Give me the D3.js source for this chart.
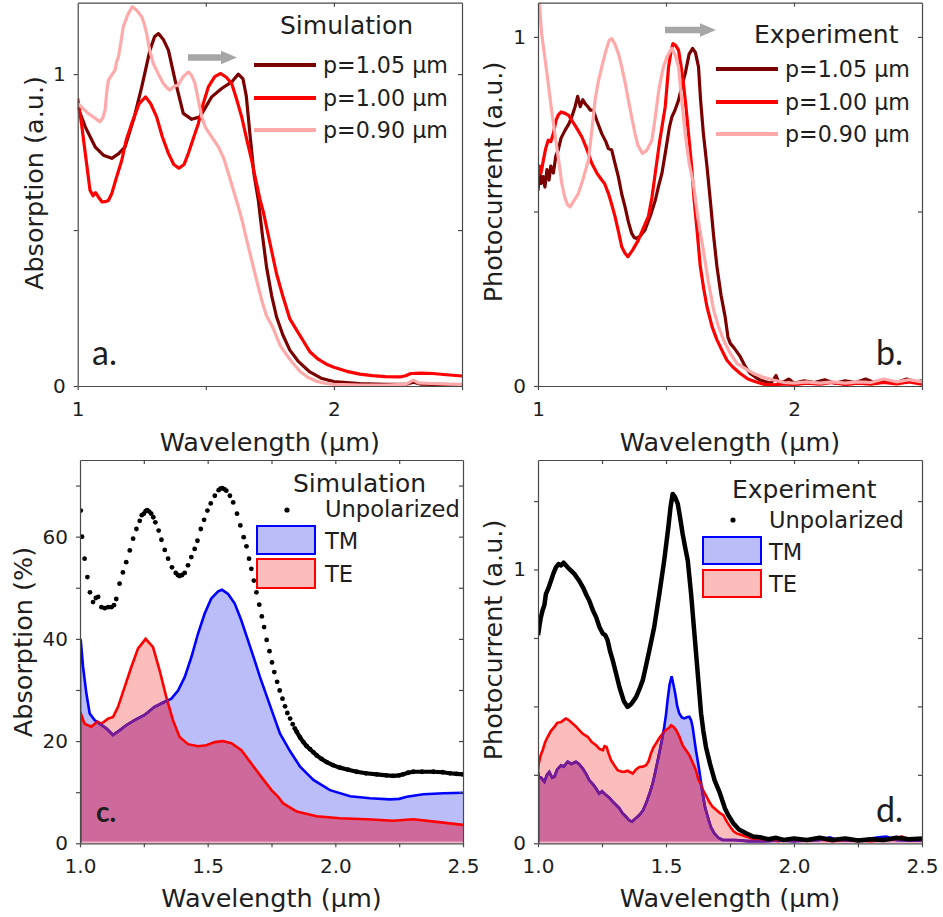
<!DOCTYPE html>
<html><head><meta charset="utf-8">
<script src="https://cdn.jsdelivr.net/npm/d3@7"></script>
<style>body{margin:0;background:#fff}svg{display:block}</style>
</head><body>
<svg id="fig" width="943" height="917"></svg>
<script>
// ---------------- DATA ----------------
// Panel a: simulated absorption (a.u.) vs wavelength (µm)
const simA105 = [[1.00,0.895],[1.03,0.83],[1.068,0.767],[1.10,0.74],[1.133,0.730],[1.16,0.745],[1.185,0.767],[1.22,0.86],[1.25,0.959],[1.282,1.077],[1.30,1.12],[1.315,1.130],[1.335,1.11],[1.354,1.077],[1.380,0.981],[1.412,0.874],[1.445,0.855],[1.477,0.863],[1.50,0.895],[1.523,0.927],[1.562,0.954],[1.601,0.975],[1.627,1.0],[1.645,0.985],[1.658,0.93],[1.672,0.810],[1.688,0.68],[1.705,0.596],[1.72,0.49],[1.737,0.382],[1.757,0.29],[1.776,0.222],[1.80,0.165],[1.828,0.115],[1.86,0.08],[1.906,0.045],[1.95,0.025],[2.00,0.014],[2.1,0.008],[2.2,0.005],[2.28,0.005],[2.31,0.012],[2.34,0.006],[2.4,0.005],[2.5,0.004]];
const simA100 = [[1.00,0.922],[1.015,0.84],[1.028,0.756],[1.048,0.628],[1.06,0.61],[1.07,0.62],[1.08,0.607],[1.095,0.59],[1.107,0.591],[1.12,0.595],[1.133,0.617],[1.15,0.665],[1.172,0.724],[1.19,0.79],[1.211,0.842],[1.24,0.905],[1.265,0.927],[1.285,0.905],[1.308,0.863],[1.33,0.80],[1.354,0.746],[1.375,0.71],[1.395,0.698],[1.415,0.71],[1.432,0.746],[1.45,0.79],[1.471,0.842],[1.49,0.905],[1.510,0.959],[1.535,0.992],[1.558,1.002],[1.58,0.99],[1.601,0.970],[1.62,0.92],[1.640,0.863],[1.66,0.79],[1.679,0.724],[1.695,0.66],[1.711,0.60],[1.724,0.56],[1.75,0.46],[1.776,0.36],[1.80,0.29],[1.828,0.215],[1.854,0.18],[1.88,0.145],[1.906,0.11],[1.94,0.085],[1.971,0.07],[2.00,0.060],[2.05,0.047],[2.101,0.038],[2.15,0.033],[2.2,0.03],[2.257,0.029],[2.28,0.033],[2.30,0.040],[2.34,0.041],[2.385,0.040],[2.44,0.036],[2.5,0.032]];
const simA090 = [[1.00,0.906],[1.02,0.89],[1.041,0.874],[1.065,0.86],[1.087,0.847],[1.098,0.86],[1.107,0.885],[1.113,0.94],[1.12,0.981],[1.135,1.0],[1.146,1.013],[1.152,1.04],[1.159,1.055],[1.168,1.10],[1.178,1.152],[1.195,1.19],[1.213,1.216],[1.23,1.205],[1.25,1.184],[1.26,1.16],[1.269,1.130],[1.28,1.08],[1.295,1.034],[1.315,1.0],[1.334,0.970],[1.35,0.955],[1.360,0.949],[1.375,0.96],[1.392,0.965],[1.41,0.99],[1.432,1.007],[1.445,0.995],[1.458,0.970],[1.47,0.92],[1.484,0.863],[1.498,0.83],[1.510,0.815],[1.53,0.79],[1.549,0.767],[1.57,0.73],[1.588,0.682],[1.607,0.63],[1.627,0.575],[1.645,0.52],[1.659,0.47],[1.68,0.40],[1.698,0.34],[1.72,0.27],[1.737,0.225],[1.763,0.185],[1.79,0.13],[1.815,0.10],[1.841,0.072],[1.87,0.045],[1.9,0.027],[1.932,0.015],[1.97,0.008],[2.0,0.005],[2.1,0.003],[2.2,0.003],[2.28,0.005],[2.31,0.019],[2.33,0.01],[2.38,0.008],[2.45,0.006],[2.5,0.005]];

// Panel b: measured photocurrent (a.u.)
const expB105 = [[1.00,0.56],[1.006,0.62],[1.012,0.58],[1.02,0.60],[1.027,0.57],[1.035,0.62],[1.043,0.59],[1.05,0.63],[1.06,0.61],[1.07,0.66],[1.079,0.676],[1.09,0.71],[1.106,0.733],[1.12,0.75],[1.132,0.771],[1.145,0.80],[1.155,0.83],[1.165,0.80],[1.175,0.82],[1.184,0.809],[1.195,0.80],[1.205,0.79],[1.216,0.790],[1.23,0.76],[1.249,0.723],[1.265,0.70],[1.275,0.68],[1.288,0.676],[1.30,0.64],[1.314,0.599],[1.327,0.55],[1.340,0.513],[1.353,0.47],[1.366,0.437],[1.376,0.425],[1.386,0.423],[1.40,0.43],[1.418,0.447],[1.44,0.49],[1.458,0.532],[1.470,0.57],[1.484,0.609],[1.50,0.68],[1.513,0.74],[1.523,0.771],[1.535,0.79],[1.549,0.819],[1.562,0.86],[1.575,0.895],[1.59,0.95],[1.604,0.967],[1.615,0.955],[1.627,0.914],[1.635,0.82],[1.646,0.723],[1.66,0.63],[1.673,0.532],[1.686,0.43],[1.699,0.342],[1.715,0.26],[1.731,0.198],[1.742,0.14],[1.751,0.122],[1.765,0.11],[1.775,0.10],[1.790,0.084],[1.81,0.055],[1.829,0.036],[1.85,0.025],[1.868,0.017],[1.89,0.012],[1.91,0.008],[1.93,0.03],[1.94,0.01],[1.96,0.012],[1.98,0.02],[2.0,0.008],[2.04,0.015],[2.08,0.01],[2.12,0.018],[2.16,0.008],[2.2,0.015],[2.24,0.01],[2.28,0.02],[2.32,0.008],[2.36,0.015],[2.4,0.01],[2.44,0.02],[2.48,0.012],[2.5,0.015]];
const expB100 = [[1.00,0.60],[1.006,0.63],[1.012,0.61],[1.021,0.647],[1.03,0.68],[1.040,0.704],[1.05,0.70],[1.060,0.723],[1.07,0.76],[1.079,0.776],[1.09,0.785],[1.106,0.781],[1.12,0.775],[1.132,0.761],[1.15,0.74],[1.171,0.714],[1.19,0.68],[1.210,0.638],[1.23,0.61],[1.249,0.590],[1.26,0.58],[1.275,0.552],[1.288,0.52],[1.301,0.485],[1.315,0.44],[1.327,0.399],[1.34,0.38],[1.351,0.370],[1.37,0.39],[1.392,0.418],[1.41,0.45],[1.431,0.485],[1.445,0.54],[1.458,0.609],[1.475,0.70],[1.497,0.800],[1.505,0.87],[1.510,0.914],[1.52,0.96],[1.527,0.981],[1.538,0.975],[1.549,0.962],[1.558,0.92],[1.568,0.867],[1.578,0.80],[1.588,0.723],[1.600,0.63],[1.610,0.532],[1.622,0.44],[1.634,0.342],[1.647,0.28],[1.660,0.227],[1.68,0.17],[1.699,0.132],[1.72,0.10],[1.738,0.074],[1.76,0.055],[1.790,0.036],[1.82,0.02],[1.85,0.012],[1.881,0.005],[1.92,0.003],[1.96,0.006],[2.0,0.004],[2.05,0.008],[2.1,0.005],[2.15,0.01],[2.2,0.004],[2.25,0.008],[2.3,0.005],[2.35,0.01],[2.4,0.006],[2.45,0.012],[2.5,0.005]];
const expB090 = [[1.00,1.16],[1.007,1.08],[1.014,1.010],[1.027,0.94],[1.040,0.867],[1.053,0.79],[1.066,0.723],[1.08,0.65],[1.093,0.580],[1.105,0.54],[1.115,0.52],[1.125,0.513],[1.14,0.53],[1.158,0.552],[1.175,0.59],[1.197,0.647],[1.21,0.73],[1.223,0.819],[1.235,0.87],[1.249,0.914],[1.265,0.96],[1.278,0.99],[1.288,0.995],[1.30,0.98],[1.315,0.95],[1.327,0.914],[1.340,0.87],[1.353,0.819],[1.366,0.77],[1.379,0.723],[1.39,0.69],[1.408,0.666],[1.425,0.675],[1.445,0.704],[1.458,0.77],[1.470,0.838],[1.480,0.88],[1.490,0.914],[1.505,0.945],[1.523,0.967],[1.535,0.95],[1.549,0.914],[1.56,0.83],[1.575,0.723],[1.590,0.64],[1.607,0.580],[1.625,0.48],[1.646,0.389],[1.665,0.30],[1.686,0.218],[1.705,0.17],[1.725,0.132],[1.75,0.095],[1.777,0.065],[1.81,0.05],[1.842,0.036],[1.88,0.025],[1.920,0.017],[1.96,0.01],[2.0,0.008],[2.05,0.012],[2.1,0.008],[2.15,0.012],[2.2,0.008],[2.25,0.012],[2.3,0.01],[2.35,0.02],[2.4,0.012],[2.45,0.018],[2.5,0.012]];

// Panel c: simulated absorption (%)
const simCUnpol = [[1.003,65.1],[1.008,60.0],[1.018,55.7],[1.029,52.1],[1.039,49.1],[1.051,47.2],[1.062,48.0],[1.071,48.2],[1.084,46.2],[1.097,46.0],[1.110,46.2],[1.123,46.2],[1.133,46.6],[1.142,47.8],[1.155,50.8],[1.168,53.0],[1.181,55.0],[1.195,57.3],[1.208,59.6],[1.221,61.5],[1.234,63.1],[1.242,64.2],[1.250,64.5],[1.257,65.0],[1.263,65.2],[1.271,64.9],[1.279,64.5],[1.287,63.8],[1.295,62.8],[1.308,61.2],[1.319,59.4],[1.332,57.4],[1.345,55.7],[1.360,54.0],[1.375,52.9],[1.383,52.5],[1.390,52.3],[1.400,52.5],[1.410,52.9],[1.423,54.4],[1.436,56.0],[1.449,57.6],[1.460,59.2],[1.473,61.5],[1.486,63.3],[1.499,65.1],[1.512,66.5],[1.528,68.0],[1.543,69.1],[1.550,69.4],[1.557,69.5],[1.565,69.3],[1.573,69.0],[1.587,68.0],[1.600,66.7],[1.615,64.5],[1.628,62.2],[1.641,59.9],[1.652,58.1],[1.662,55.7],[1.671,53.7],[1.681,51.4],[1.691,49.1],[1.702,46.7],[1.712,44.4],[1.721,42.3],[1.731,39.8],[1.742,37.6],[1.752,35.4],[1.761,33.5],[1.772,31.6],[1.782,29.9],[1.793,28.3],[1.803,26.8],[1.812,25.5],[1.823,24.4],[1.833,23.3],[1.841,22.5],[1.849,21.8],[1.862,20.7],[1.875,19.8],[1.888,19.0],[1.901,18.4],[1.914,17.8],[1.927,17.2],[1.946,16.5],[1.966,15.9],[1.99,15.3],[2.018,14.8],[2.05,14.4],[2.084,14.0],[2.12,13.7],[2.162,13.5],[2.2,13.3],[2.227,13.2],[2.25,13.3],[2.266,13.5],[2.285,13.8],[2.305,14.0],[2.34,14.0],[2.384,14.0],[2.42,13.9],[2.449,13.7],[2.475,13.6],[2.5,13.5]];
const simCTM = [[1.0,40.0],[1.003,39.7],[1.012,34.5],[1.025,29.3],[1.038,25.4],[1.057,24.1],[1.077,23.4],[1.103,22.5],[1.129,21.2],[1.155,22.1],[1.181,23.1],[1.214,24.1],[1.253,25.1],[1.292,26.7],[1.332,27.7],[1.358,28.3],[1.384,29.9],[1.410,32.5],[1.436,36.4],[1.462,41.0],[1.488,44.9],[1.514,47.9],[1.541,49.3],[1.556,49.6],[1.580,48.8],[1.606,46.9],[1.632,43.6],[1.658,39.7],[1.684,35.8],[1.705,32.5],[1.744,27.0],[1.783,21.5],[1.823,18.0],[1.862,15.0],[1.914,12.4],[1.979,10.4],[2.058,9.2],[2.136,8.8],[2.214,8.6],[2.25,8.7],[2.280,9.1],[2.345,9.6],[2.423,9.8],[2.5,9.9]];
const simCTE = [[1.0,25.6],[1.003,25.4],[1.018,23.4],[1.044,22.8],[1.058,23.4],[1.068,23.8],[1.083,23.4],[1.110,24.4],[1.129,24.7],[1.149,26.7],[1.175,30.6],[1.201,34.5],[1.227,38.1],[1.257,40.0],[1.286,38.4],[1.312,33.8],[1.338,28.6],[1.364,24.1],[1.390,20.8],[1.423,19.4],[1.462,19.0],[1.495,19.2],[1.528,19.8],[1.560,20.0],[1.593,19.6],[1.632,18.2],[1.671,15.6],[1.710,13.0],[1.750,10.4],[1.776,9.1],[1.796,7.8],[1.849,6.2],[1.927,5.3],[2.018,4.9],[2.123,4.7],[2.227,4.4],[2.305,4.7],[2.397,4.2],[2.5,3.6]];

// Panel d: measured photocurrent (a.u.)
const expDUnpol = [[1.0,0.76],[1.003,0.778],[1.010,0.82],[1.018,0.851],[1.025,0.87],[1.031,0.911],[1.04,0.93],[1.051,0.960],[1.06,0.985],[1.070,1.008],[1.08,1.02],[1.090,1.015],[1.10,1.025],[1.116,1.008],[1.13,0.995],[1.142,0.984],[1.16,0.96],[1.175,0.936],[1.19,0.905],[1.200,0.887],[1.215,0.85],[1.227,0.826],[1.24,0.79],[1.253,0.766],[1.263,0.76],[1.272,0.741],[1.282,0.70],[1.292,0.668],[1.305,0.62],[1.318,0.571],[1.335,0.52],[1.350,0.498],[1.365,0.51],[1.383,0.534],[1.395,0.56],[1.409,0.595],[1.42,0.64],[1.435,0.705],[1.454,0.790],[1.474,0.911],[1.493,1.033],[1.509,1.154],[1.518,1.23],[1.526,1.276],[1.535,1.265],[1.546,1.240],[1.555,1.19],[1.565,1.130],[1.575,1.08],[1.585,1.033],[1.598,0.911],[1.611,0.766],[1.624,0.620],[1.637,0.474],[1.646,0.41],[1.656,0.352],[1.672,0.29],[1.690,0.23],[1.711,0.182],[1.730,0.128],[1.745,0.10],[1.763,0.073],[1.785,0.05],[1.815,0.036],[1.84,0.025],[1.867,0.022],[1.9,0.015],[1.93,0.02],[1.96,0.012],[2.0,0.018],[2.05,0.012],[2.1,0.02],[2.15,0.012],[2.2,0.018],[2.25,0.01],[2.3,0.015],[2.35,0.012],[2.4,0.02],[2.45,0.015],[2.5,0.018]];
const expDTM = [[1.0,0.26],[1.003,0.243],[1.012,0.24],[1.025,0.225],[1.035,0.25],[1.044,0.261],[1.055,0.24],[1.064,0.243],[1.075,0.27],[1.090,0.285],[1.100,0.28],[1.116,0.298],[1.13,0.29],[1.148,0.298],[1.16,0.29],[1.175,0.273],[1.19,0.25],[1.200,0.231],[1.215,0.215],[1.227,0.200],[1.239,0.182],[1.25,0.19],[1.266,0.176],[1.28,0.165],[1.292,0.152],[1.305,0.14],[1.318,0.128],[1.330,0.11],[1.344,0.097],[1.355,0.085],[1.367,0.079],[1.38,0.09],[1.396,0.103],[1.41,0.12],[1.422,0.146],[1.435,0.18],[1.448,0.219],[1.458,0.26],[1.468,0.304],[1.476,0.34],[1.484,0.377],[1.493,0.425],[1.500,0.47],[1.506,0.522],[1.514,0.58],[1.522,0.610],[1.529,0.58],[1.536,0.547],[1.544,0.50],[1.552,0.474],[1.562,0.46],[1.571,0.456],[1.582,0.46],[1.591,0.462],[1.598,0.45],[1.604,0.425],[1.610,0.385],[1.617,0.340],[1.630,0.267],[1.643,0.182],[1.653,0.13],[1.663,0.097],[1.675,0.06],[1.689,0.036],[1.705,0.02],[1.721,0.012],[1.77,0.012],[1.82,0.008],[1.88,0.008],[1.95,0.01],[2.0,0.008],[2.05,0.01],[2.1,0.012],[2.14,0.022],[2.17,0.012],[2.22,0.01],[2.28,0.015],[2.33,0.022],[2.36,0.025],[2.4,0.012],[2.45,0.01],[2.5,0.01]];
const expDTE = [[1.0,0.26],[1.003,0.292],[1.010,0.32],[1.018,0.340],[1.028,0.37],[1.038,0.389],[1.05,0.41],[1.064,0.425],[1.075,0.44],[1.090,0.443],[1.100,0.45],[1.109,0.456],[1.12,0.45],[1.136,0.437],[1.15,0.425],[1.161,0.413],[1.175,0.40],[1.194,0.389],[1.21,0.37],[1.227,0.358],[1.24,0.345],[1.253,0.340],[1.260,0.355],[1.268,0.352],[1.275,0.33],[1.285,0.304],[1.298,0.285],[1.311,0.267],[1.325,0.262],[1.337,0.261],[1.350,0.265],[1.370,0.255],[1.383,0.27],[1.396,0.279],[1.41,0.28],[1.422,0.285],[1.432,0.30],[1.441,0.328],[1.451,0.35],[1.461,0.365],[1.474,0.385],[1.487,0.401],[1.500,0.415],[1.510,0.42],[1.520,0.431],[1.530,0.425],[1.540,0.413],[1.552,0.39],[1.565,0.358],[1.578,0.34],[1.591,0.322],[1.604,0.295],[1.617,0.267],[1.626,0.235],[1.637,0.213],[1.647,0.19],[1.659,0.170],[1.67,0.15],[1.682,0.133],[1.698,0.121],[1.711,0.11],[1.724,0.103],[1.737,0.08],[1.750,0.061],[1.763,0.045],[1.776,0.036],[1.795,0.03],[1.815,0.024],[1.835,0.018],[1.854,0.015],[1.88,0.01],[1.904,0.012],[1.94,0.008],[1.97,0.015],[2.0,0.012],[2.05,0.01],[2.1,0.015],[2.15,0.008],[2.2,0.012],[2.25,0.01],[2.3,0.008],[2.35,0.012],[2.4,0.015],[2.42,0.025],[2.45,0.015],[2.5,0.012]];

// Ticks and labels
const xTicksAB = [1, 1.5, 2, 2.5];
const xLabelsAB = ["1", "", "2", ""];
const xTicksCD = [1, 1.25, 1.5, 1.75, 2, 2.25, 2.5];
const xLabelsCD = ["1.0", "", "1.5", "", "2.0", "", "2.5"];
const yTicksA = [0, 0.5, 1];
const yLabelsA = ["0", "", "1"];
const yTicksB = [0, 0.5, 1];
const yLabelsB = ["0", "", "1"];
const yTicksC = [0, 10, 20, 30, 40, 50, 60, 70];
const yLabelsC = ["0", "", "20", "", "40", "", "60", ""];
const yTicksD = [0, 0.25, 0.5, 0.75, 1, 1.25];
const yLabelsD = ["0", "", "", "", "1", ""];
const periodLabels = ["p=1.05 µm", "p=1.00 µm", "p=0.90 µm"];
const polLabels = ["Unpolarized", "TM", "TE"];

// ---------------- DRAWING ----------------
const FONT = "'DejaVu Sans', Verdana, sans-serif";
const TXT = "#1e1e1e";
const C105 = "#7b0000", C100 = "#ff0000", C090 = "#ffaaaa";
const TMFILL = "#bbbdf8", TEFILL = "#fbbcbc", OVFILL = "#cd6a9b";
const svg = d3.select("#fig");
svg.append("rect").attr("width", 943).attr("height", 917).attr("fill", "#fff");
const defs = svg.append("defs");

function makePanel(cfg) {
  const x = d3.scaleLinear().domain([1, 2.5]).range([cfg.left, cfg.right]);
  const y = d3.scaleLinear().domain([0, cfg.ymax]).range([cfg.bottom, cfg.top]);
  const id = "clip-" + cfg.name;
  defs.append("clipPath").attr("id", id).append("rect")
    .attr("x", cfg.left).attr("y", cfg.top)
    .attr("width", cfg.right - cfg.left).attr("height", cfg.bottom - cfg.top);
  const g = svg.append("g");
  const plot = g.append("g").attr("clip-path", `url(#${id})`);
  return { cfg, x, y, g, plot };
}

function fmtFrom(ticks, labels) {
  return v => { const i = ticks.findIndex(t => Math.abs(t - v) < 1e-9); return i >= 0 ? labels[i] : ""; };
}

function drawAxes(P, xt, xl, yt, yl) {
  const { cfg, x, y, g } = P;
  const styleAxis = sel => {
    sel.select(".domain").attr("stroke", "#4a4a4a").attr("stroke-width", 1.2);
    sel.selectAll(".tick line").attr("stroke", "#4a4a4a").attr("stroke-width", 1.2);
    sel.selectAll("text").attr("font-family", FONT).attr("font-size", 20).attr("fill", TXT);
  };
  g.append("g").attr("transform", `translate(0,${cfg.bottom})`)
    .call(d3.axisBottom(x).tickValues(xt).tickSize(4).tickSizeOuter(0).tickPadding(12).tickFormat(fmtFrom(xt, xl)))
    .call(styleAxis);
  g.append("g").attr("transform", `translate(0,${cfg.top})`)
    .call(d3.axisTop(x).tickValues(xt.filter(v => v > 1 && v < 2.5)).tickSize(-4).tickSizeOuter(0).tickFormat(""))
    .call(styleAxis);
  g.append("g").attr("transform", `translate(${cfg.left},0)`)
    .call(d3.axisLeft(y).tickValues(yt).tickSize(4).tickSizeOuter(0).tickPadding(8).tickFormat(fmtFrom(yt, yl)))
    .call(styleAxis);
  g.append("g").attr("transform", `translate(${cfg.right},0)`)
    .call(d3.axisRight(y).tickValues(yt.filter(v => v > 0)).tickSize(-4).tickSizeOuter(0).tickFormat(""))
    .call(styleAxis);
  // axis titles
  g.append("text").attr("x", (cfg.left + cfg.right) / 2).attr("y", cfg.xTitleY)
    .attr("text-anchor", "middle").attr("font-family", FONT).attr("font-size", 25.5).attr("fill", TXT)
    .text("Wavelength (µm)");
  g.append("text").attr("transform", `translate(${cfg.yTitleX},${cfg.yTitleCY}) rotate(-90)`)
    .attr("text-anchor", "middle").attr("font-family", FONT).attr("font-size", 25.5).attr("fill", TXT)
    .text(cfg.yTitle);
}

function addText(g, x, y, txt, size, opts = {}) {
  return g.append("text").attr("x", x).attr("y", y).attr("font-family", opts.family || FONT)
    .attr("font-size", size).attr("font-weight", opts.weight || "normal")
    .attr("text-anchor", opts.anchor || "start").attr("fill", TXT).text(txt);
}

function grayArrow(g, x0, x1, yc) {
  const head = 16;
  g.append("path")
    .attr("d", `M${x0},${yc - 3.2} L${x1 - head},${yc - 3.2} L${x1 - head},${yc - 6.8} L${x1},${yc} L${x1 - head},${yc + 6.8} L${x1 - head},${yc + 3.2} L${x0},${yc + 3.2} Z`)
    .attr("fill", "#a6a6a6");
}

function linePanel(P, series, colors, legend) {
  const line = d3.line().x(d => P.x(d[0])).y(d => P.y(d[1]));
  series.forEach((s, i) => {
    P.plot.append("path").datum(s).attr("d", line).attr("fill", "none")
      .attr("stroke", colors[i]).attr("stroke-width", 3.2).attr("stroke-linejoin", "round");
  });
  // legend
  addText(P.g, legend.titleX, legend.titleY, legend.title, 25);
  periodLabels.forEach((lab, i) => {
    const yy = legend.rowY[i];
    P.g.append("line").attr("x1", legend.lineX0).attr("x2", legend.lineX1).attr("y1", yy).attr("y2", yy)
      .attr("stroke", colors[i]).attr("stroke-width", 4);
    addText(P.g, legend.textX, yy + 8, lab, 22.2);
  });
}

function polPanel(P, unpol, tm, te, opt) {
  const { x, y, plot } = P;
  const withBase = s => [[s[0][0], 0], ...s];
  const area = d3.area().x(d => x(d[0])).y0(y(0)).y1(d => y(d[1]));
  const line = d3.line().x(d => x(d[0])).y(d => y(d[1]));
  const teClipId = "teclip-" + P.cfg.name;
  defs.append("clipPath").attr("id", teClipId).append("path").datum(te).attr("d", area);
  plot.append("path").datum(tm).attr("d", area).attr("fill", TMFILL);
  plot.append("path").datum(te).attr("d", area).attr("fill", TEFILL);
  plot.append("path").datum(tm).attr("d", area).attr("fill", OVFILL).attr("clip-path", `url(#${teClipId})`);
  plot.append("line").attr("x1", x(1)).attr("x2", x(2.5)).attr("y1", y(0) - 1).attr("y2", y(0) - 1)
    .attr("stroke", "#f2b0c8").attr("stroke-width", 1.5);
  plot.append("path").datum(withBase(tm)).attr("d", line).attr("fill", "none").attr("stroke", "#0000ff").attr("stroke-width", 2.6);
  plot.append("path").datum(withBase(te)).attr("d", line).attr("fill", "none").attr("stroke", "#ff0000").attr("stroke-width", 2.6);
  plot.append("path").datum(tm).attr("d", line).attr("fill", "none").attr("stroke", "#7a1a8c").attr("stroke-width", 2.6)
    .attr("clip-path", `url(#${teClipId})`);
  if (opt.dots) {
    const tail = unpol.filter(d => d[0] >= opt.tailFrom);
    plot.append("path").datum(tail).attr("d", line).attr("fill", "none").attr("stroke", "#000").attr("stroke-width", 4.2);
    plot.selectAll("circle.u").data(unpol).join("circle").attr("class", "u")
      .attr("cx", d => x(d[0])).attr("cy", d => y(d[1])).attr("r", 2.4).attr("fill", "#000");
  } else {
    plot.append("path").datum(unpol).attr("d", line).attr("fill", "none").attr("stroke", "#000")
      .attr("stroke-width", 4.5).attr("stroke-linejoin", "round");
  }
  // legend
  const L = opt.legend;
  addText(P.g, L.titleX, L.titleY, L.title, 25);
  P.g.append("circle").attr("cx", L.dotX).attr("cy", L.dotY).attr("r", 2.6).attr("fill", "#000");
  addText(P.g, L.textX, L.unpolY, polLabels[0], 22.6);
  [[TMFILL, "#0000ff", L.tmBox, L.tmY, polLabels[1]], [TEFILL, "#ff0000", L.teBox, L.teY, polLabels[2]]].forEach(([f, s, b, ty, lab]) => {
    P.g.append("rect").attr("x", L.boxX0).attr("y", b[0]).attr("width", L.boxX1 - L.boxX0).attr("height", b[1] - b[0])
      .attr("fill", f).attr("stroke", s).attr("stroke-width", 2);
    addText(P.g, L.textX, ty, lab, 22.6);
  });
}

// Panel a
const PA = makePanel({ name: "a", left: 77.7, right: 462, top: 2.7, bottom: 386, ymax: 1.229,
  xTitleY: 451, yTitleX: 43, yTitleCY: 183, yTitle: "Absorption (a.u.)" });
linePanel(PA, [simA105, simA100, simA090], [C105, C100, C090],
  { title: "Simulation", titleX: 280, titleY: 34, lineX0: 254, lineX1: 316, textX: 323, rowY: [65, 98, 130] });
grayArrow(PA.g, 188, 237, 57.5);
drawAxes(PA, xTicksAB, xLabelsAB, yTicksA, yLabelsA);
addText(PA.g, 92, 365, "a.", 34, { family: "Lato, sans-serif" });

// Panel b
const PB = makePanel({ name: "b", left: 538, right: 922, top: 2.7, bottom: 386, ymax: 1.098,
  xTitleY: 451, yTitleX: 502, yTitleCY: 182, yTitle: "Photocurrent (a.u.)" });
linePanel(PB, [expB105, expB100, expB090], [C105, C100, C090],
  { title: "Experiment", titleX: 754, titleY: 43, lineX0: 716, lineX1: 778, textX: 785, rowY: [69, 102, 134] });
grayArrow(PB.g, 665, 716, 30);
drawAxes(PB, xTicksAB, xLabelsAB, yTicksB, yLabelsB);
addText(PB.g, 876, 365, "b.", 34, { family: "Lato, sans-serif" });

// Panel c
const PC = makePanel({ name: "c", left: 80, right: 463, top: 460, bottom: 843.3, ymax: 75,
  xTitleY: 907, yTitleX: 32, yTitleCY: 642, yTitle: "Absorption (%)" });
polPanel(PC, simCUnpol, simCTM, simCTE, { dots: true, tailFrom: 1.84,
  legend: { title: "Simulation", titleX: 293, titleY: 492, dotX: 287, dotY: 510, textX: 325, unpolY: 517,
    boxX0: 257, boxX1: 315, tmBox: [526, 554], tmY: 549, teBox: [559, 588], teY: 582 } });
drawAxes(PC, xTicksCD, xLabelsCD, yTicksC, yLabelsC);
addText(PC.g, 96, 822, "c.", 28, { family: "Lato, sans-serif", weight: "bold" });

// Panel d
const PD = makePanel({ name: "d", left: 538, right: 922, top: 460, bottom: 843.3, ymax: 1.4,
  xTitleY: 907, yTitleX: 502, yTitleCY: 640, yTitle: "Photocurrent (a.u.)" });
polPanel(PD, expDUnpol, expDTM, expDTE, { dots: false,
  legend: { title: "Experiment", titleX: 732, titleY: 498, dotX: 733, dotY: 520, textX: 769, unpolY: 528,
    boxX0: 703, boxX1: 761, tmBox: [537, 564], tmY: 560, teBox: [570, 597], teY: 592 } });
drawAxes(PD, xTicksCD, xLabelsCD, yTicksD, yLabelsD);
addText(PD.g, 876, 822, "d.", 34, { family: "Lato, sans-serif" });
</script>
</body></html>
